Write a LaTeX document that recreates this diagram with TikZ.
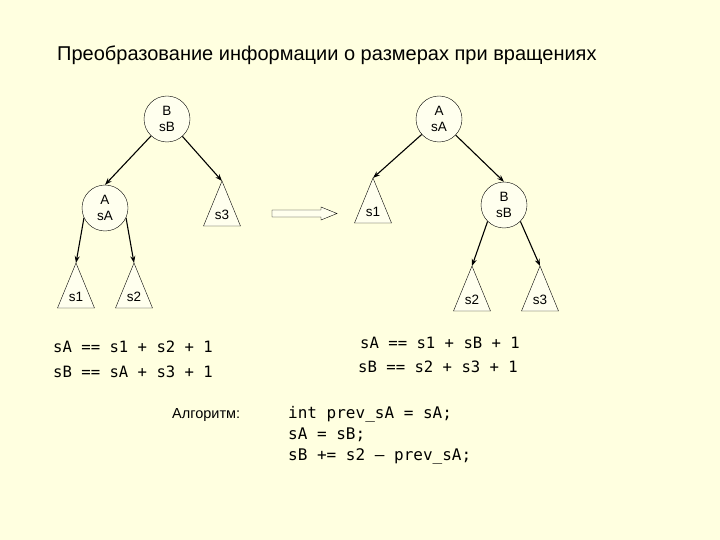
\documentclass[tikz,border=0pt]{standalone}
\usepackage{fontspec}
\setmainfont{Liberation Sans}
\setmonofont{DejaVu Sans Mono}
\usetikzlibrary{arrows.meta}
\definecolor{bg}{RGB}{255,255,224}
\definecolor{paper}{RGB}{255,255,238}
% subtree triangle: name, apex, label
\newcommand{\subtree}[3]{%
  \coordinate (#1) at (#2);
  \draw[tri] (#1) -- ++(-18.5,45) -- ++(37,0) -- cycle;
  \path (#1) ++(0,34) node[lbl] (#1lbl) {#3};
}
\begin{document}
\begin{tikzpicture}[x=1pt, y=-1pt,
  vert/.style={circle,draw,fill=paper,minimum size=46pt,inner sep=0pt,align=center,font=\fontsize{13.5}{16.5}\selectfont},
  tri/.style={draw,fill=paper},
  lbl/.style={font=\fontsize{13.5}{15}\selectfont},
  edge/.style={-{Stealth[length=7pt,width=5pt]},line width=1.1pt},
  code/.style={font=\ttfamily\fontsize{15.6}{20}\selectfont,anchor=base west,inner sep=0pt}]
\fill[bg] (0,0) rectangle (720,540);
\node[font=\fontsize{20}{24}\selectfont,anchor=base west,inner sep=0pt] (title) at (57,61)
  {Преобразование информации о размерах при вращениях};
% before rotation
\node[vert] (lB) at (167,119) {B\\sB};
\node[vert] (lA) at (105,208) {A\\sA};
\subtree{ls3}{222,181}{s3}
\subtree{ls1}{76,263}{s1}
\subtree{ls2}{134,263}{s2}
\draw[edge] (lB) -- (lA.north);
\draw[edge] (lB) -- (ls3);
\draw[edge] (lA.205) -- (ls1);
\draw[edge] (lA.335) -- (ls2);
% after rotation
\node[vert] (rA) at (439,119) {A\\sA};
\node[vert] (rB) at (504,205) {B\\sB};
\subtree{rs1}{373,178}{s1}
\subtree{rs2}{472,266}{s2}
\subtree{rs3}{540,266}{s3}
\draw[edge] (rA) -- (rs1);
\draw[edge] (rA) -- (rB.north);
\draw[edge] (rB.225) -- (rs2);
\draw[edge] (rB.315) -- (rs3);
\draw[fill=paper] (272,210) -- (321,210) -- (321,207) -- (337,213.5) -- (321,220) -- (321,217) -- (272,217) -- cycle;
% size equations
\node[code] (eqL1) at (53,352) {sA == s1 + s2 + 1};
\node[code] (eqL2) at (53,377) {sB == sA + s3 + 1};
\node[code] (eqR1) at (360,348) {sA == s1 + sB + 1};
\node[code] (eqR2) at (358,372) {sB == s2 + s3 + 1};
% algorithm
\node[font=\fontsize{14.5}{17}\selectfont,anchor=base west,inner sep=0pt] (alg) at (172,418) {Алгоритм:};
\node[code,font=\ttfamily\fontsize{16}{20}\selectfont] (c1) at (288,418) {int prev\_sA = sA;};
\node[code,font=\ttfamily\fontsize{16}{20}\selectfont] (c2) at (288,439) {sA = sB;};
\node[code,font=\ttfamily\fontsize{16}{20}\selectfont] (c3) at (288,460) {sB += s2 – prev\_sA;};
\end{tikzpicture}
\end{document}
